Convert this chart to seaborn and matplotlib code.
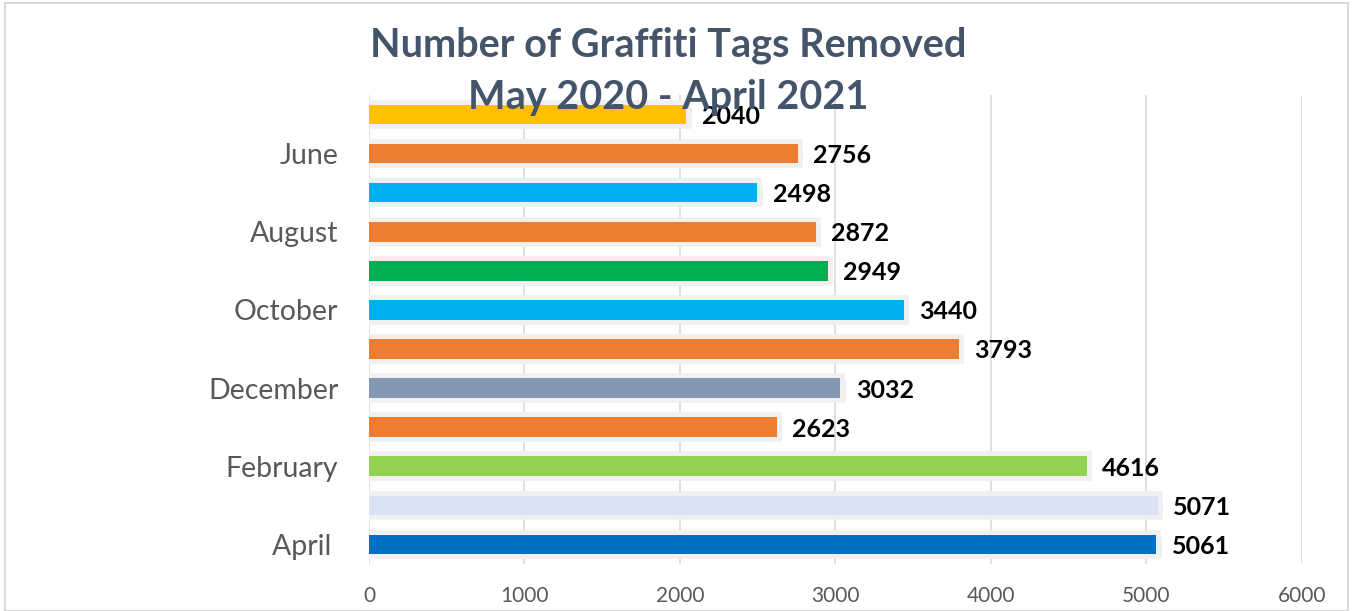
import seaborn as sns
import matplotlib
matplotlib.use('Agg')
import matplotlib.pyplot as plt
import matplotlib.patheffects as pe
import pandas as pd

months = ["May", "June", "July", "August", "September", "October",
          "November", "December", "January", "February", "March", "April"]
tags = [2040, 2756, 2498, 2872, 2949, 3440, 3793, 3032, 2623, 4616, 5071, 5061]
tick_labels = ["", "June", "", "August", "", "October",
               "", "December", "", "February", "", "April "]
bar_colors = ["#FFC000", "#ED7D31", "#00B0F0", "#ED7D31", "#00B050", "#00B0F0",
              "#ED7D31", "#8497B0", "#ED7D31", "#92D050", "#DAE3F3", "#0070C0"]

df = pd.DataFrame({"month": months, "tags": tags})

sns.set_style("white")
plt.rcParams['font.family'] = ['Lato', 'DejaVu Sans']

f = plt.figure(figsize=(13.52, 6.11), dpi=100)
ax = f.add_axes([0.2729, 0.077, 0.963 - 0.2729, 0.8445 - 0.077])

sns.barplot(data=df, x="tags", y="month", hue="month", order=months,
            palette=bar_colors, saturation=1, legend=False, width=0.5, ax=ax, zorder=3)

# soft shadow around the bars
for p in ax.patches:
    p.set_path_effects([pe.SimplePatchShadow(offset=(4, -2), shadow_rgbFace='#000000', alpha=0.07),
                        pe.Stroke(linewidth=7, foreground='#f0f0f0'),
                        pe.Normal()])
    p.set_linewidth(0)

for p, v in zip(ax.patches, tags):
    ax.text(v + 100, p.get_y() + p.get_height() / 2 + 0.05, str(v), ha='left', va='center',
            fontsize=18, fontweight='bold', color='black', zorder=5)

ax.set_xlim(0, 6000)
ax.set_ylim(11.5, -0.5)
ax.set_xticks(range(0, 6001, 1000))
ax.set_yticks(range(len(months)))
ax.set_yticklabels(tick_labels)
ax.tick_params(axis='y', labelsize=20.5, labelcolor='#595959', pad=22, length=0)
ax.tick_params(axis='x', labelsize=15, labelcolor='#595959', pad=16, length=0)
ax.xaxis.grid(True, color='#d9d9d9', linewidth=1.2, zorder=0)
ax.set_axisbelow(True)
for s in ax.spines.values():
    s.set_visible(False)
ax.set(xlabel="", ylabel="")

f.text(0.494, 0.884, "Number of Graffiti Tags Removed\nMay 2020 - April 2021",
       ha='center', va='center', fontsize=28.5, fontweight='bold', color='#44546A',
       linespacing=1.5, zorder=10)

# chart border
f.patches.append(matplotlib.patches.Rectangle((0.004, 0.0), 0.993, 0.995, transform=f.transFigure,
                                              fill=False, edgecolor='#d9d9d9', linewidth=1.5))

f.savefig("out.png", dpi=100)
